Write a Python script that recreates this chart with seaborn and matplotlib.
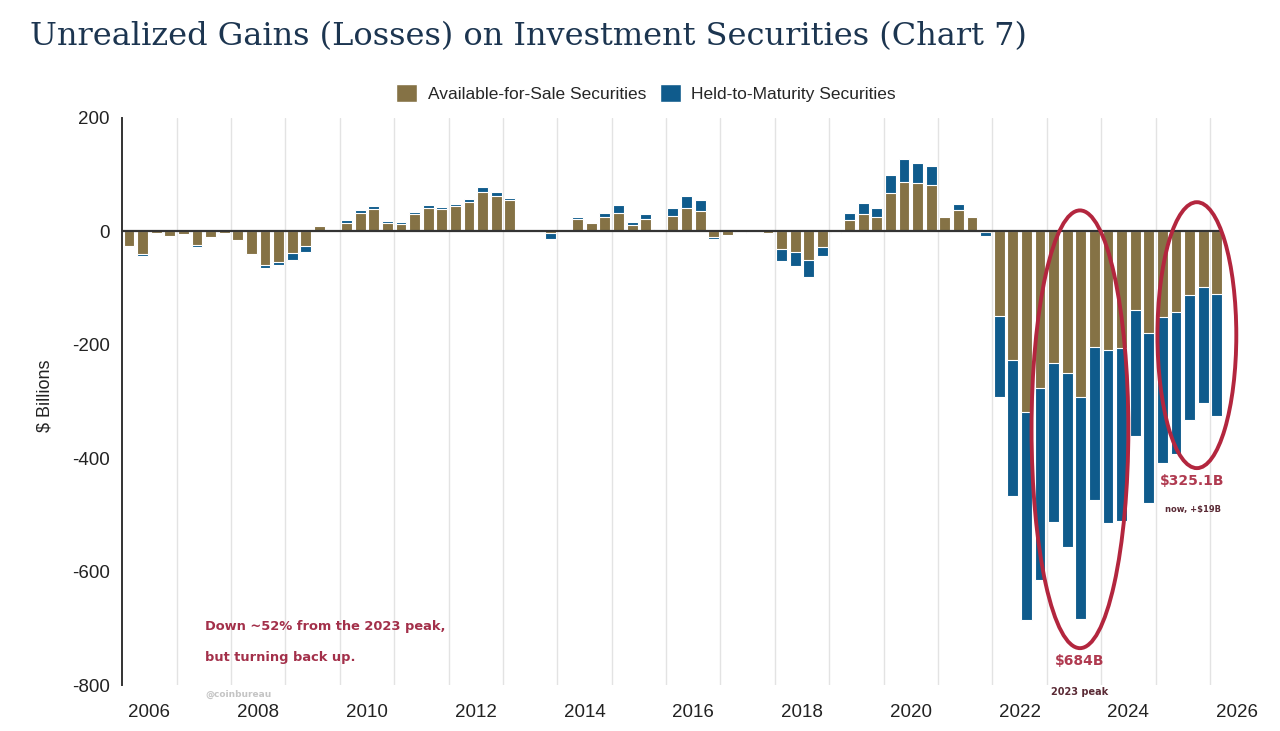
import numpy as np
import pandas as pd
import matplotlib
matplotlib.use("Agg")
import matplotlib.pyplot as plt
from matplotlib.patches import Patch, Ellipse
import seaborn as sns

# ------------------------------
# Data: quarterly unrealized gains (losses), $ billions, 2006Q1 - 2026Q1
# ------------------------------
quarters = pd.period_range("2006Q1", "2026Q1", freq="Q")

afs = [-25, -39, -3, -8, -4, -24, -10, -3, -15, -40, -60, -54, -38, -26,
       9, 1, 15, 33, 40, 14, 13, 31, 42, 40, 45, 52, 70, 63, 55, 1, 1, -3,
       1, 21, 15, 25, 32, 12, 21, 1, 28, 42, 36, -10, -6, -1, 1, -2,
       -31, -37, -50, -27, -1, 20, 30, 26, 67, 87, 85, 81, 25, 38, 25, -1,
       -150, -227, -318, -277, -232, -249, -292, -204, -210, -205, -138, -180,
       -151, -143, -113, -98, -110]

htm = [-3, -5, -1, -1, -1, -4, -2, -1, -1, -1, -4, -6, -13, -10,
       1, 2, 5, 4, 4, 4, 4, 4, 4, 3, 4, 6, 8, 6, 4, 2, 1, -10,
       2, 5, 1, 8, 14, 5, 9, 3, 14, 20, 19, -4, -3, -1, 1, -2,
       -22, -24, -30, -17, -1, 13, 20, 15, 33, 40, 36, 35, 1, 10, 3, -7,
       -142, -240, -368, -338, -281, -307, -392, -270, -304, -306, -222, -299,
       -258, -249, -220, -204, -215]

year_labels = ["2006", "2008", "2010", "2012", "2014", "2016", "2018",
               "2020", "2022", "2024", "2026"]
y_ticks = [200, 0, -200, -400, -600, -800]

df = pd.DataFrame({
    "pos": quarters.year + (quarters.quarter - 0.5) / 4,
    "afs": afs,
    "htm": htm,
})
df["total"] = df["afs"] + df["htm"]

tan = "#857245"
blue = "#0f5b8c"
red = "#b3263e"

# ------------------------------
# Figure
# ------------------------------
sns.set_style("white")
plt.rcParams["font.family"] = ["Liberation Sans", "DejaVu Sans"]
plt.rcParams["axes.unicode_minus"] = False

fig = plt.figure(figsize=(12.8, 7.31), dpi=100)
ax = fig.add_axes([0.0955, 0.0629, 0.888, 0.7757])

# total first (blue), then AFS over it (tan) -> stacked look
sns.barplot(data=df, x="pos", y="total", native_scale=True, color=blue,
            saturation=1, width=0.8, edgecolor="white", linewidth=0.8,
            errorbar=None, ax=ax, zorder=3)
sns.barplot(data=df, x="pos", y="afs", native_scale=True, color=tan,
            saturation=1, width=0.8, edgecolor="white", linewidth=0.8,
            errorbar=None, ax=ax, zorder=4)

x_end = 2026.22
ax.set_xlim(2006, 2026.9)
ax.set_ylim(-800, 200)
ax.hlines(0, 2006, x_end, color="#333333", lw=1.6, zorder=5)

# yearly vertical gridlines
ax.set_xticks(np.arange(2007, 2027), minor=True)
ax.grid(which="minor", axis="x", color="#e3e3e3", lw=1, zorder=0)
ax.grid(which="major", visible=False)
ax.set_xticks([int(y) + 0.5 for y in year_labels])
ax.set_xticklabels(year_labels)
ax.tick_params(axis="x", which="both", length=0, pad=14, labelsize=13.5,
               colors="#222222")
ax.set_yticks(y_ticks)
ax.set_yticklabels([str(v) for v in y_ticks])
ax.tick_params(axis="y", length=6, width=1.2, color="#333333", labelsize=13.5,
               labelcolor="#222222", pad=3, direction="out")
ax.set_xlabel("")
ax.set_ylabel("")

for s in ["top", "right", "bottom"]:
    ax.spines[s].set_visible(False)
ax.spines["left"].set_color("#333333")
ax.spines["left"].set_linewidth(1.4)

fig.text(45 / 1280, 1 - 396 / 731, "$ Billions", rotation=90, fontsize=13,
         ha="center", va="center", color="#222222")

# title
fig.text(30 / 1280, 1 - 45 / 731,
         "Unrealized Gains (Losses) on Investment Securities (Chart 7)",
         fontsize=23, family="DejaVu Serif", color="#1c3550",
         ha="left", va="baseline")

# legend
handles = [Patch(facecolor=tan, label="Available-for-Sale Securities"),
           Patch(facecolor=blue, label="Held-to-Maturity Securities")]
fig.legend(handles=handles, loc="center", bbox_to_anchor=(646 / 1280, 1 - 93 / 731),
           ncol=2, frameon=False, fontsize=12.5, handlelength=1.2,
           handleheight=1.2, handletextpad=0.6, columnspacing=0.8)

# annotations
ax.add_patch(Ellipse((2023.61, -349), 1.78, 772, fill=False, ec=red, lw=2.8,
                     zorder=6, clip_on=False))
ax.add_patch(Ellipse((2025.76, -183), 1.45, 469, fill=False, ec=red, lw=2.8,
                     zorder=6, clip_on=False))

bold = dict(family="DejaVu Sans", fontweight="bold", ha="center", va="center",
            clip_on=False, zorder=7)
ax.text(2023.61, -758, "$684B", fontsize=10, color="#b03a50", **bold)
ax.text(2023.61, -812, "2023 peak", fontsize=7, color="#5a2a35", **bold)
ax.text(2025.68, -440, "$325.1B", fontsize=10, color="#b03a50", **bold)
ax.text(2025.68, -490, "now, +$19B", fontsize=6, color="#5a2a35", **bold)

left = dict(family="DejaVu Sans", fontweight="bold", ha="left", va="center",
            clip_on=False, zorder=7)
ax.text(2007.52, -696, "Down ~52% from the 2023 peak,", fontsize=9.4,
        color="#a3304a", **left)
ax.text(2007.52, -751, "but turning back up.", fontsize=9.4,
        color="#a3304a", **left)
ax.text(2007.52, -816, "@coinbureau", fontsize=6.5, color="#c4c4c4", **left)

fig.savefig("out.png", dpi=100)
